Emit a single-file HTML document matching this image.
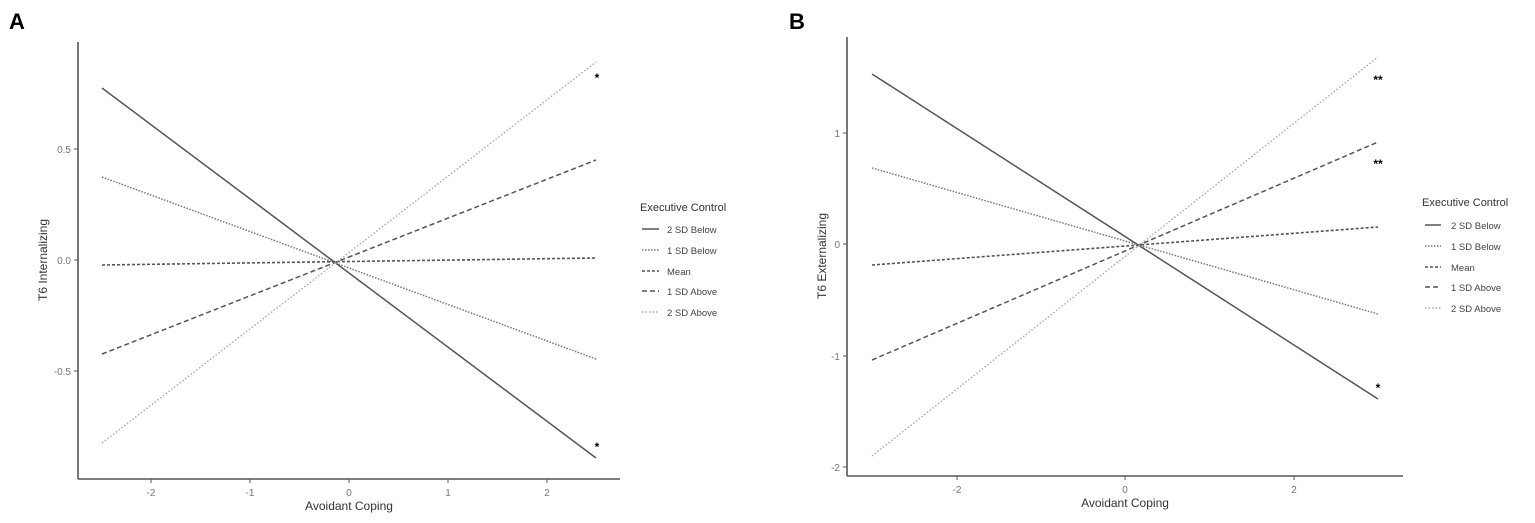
<!DOCTYPE html>
<html><head><meta charset="utf-8"><style>
html,body{margin:0;padding:0;background:#fff;}
svg text{font-family:"Liberation Sans",Arial,sans-serif;}
</style></head><body>
<svg width="1535" height="518" viewBox="0 0 1535 518" xmlns="http://www.w3.org/2000/svg">
<text x="9" y="29" font-size="22" font-weight="bold" fill="#000">A</text>
<text x="789" y="29" font-size="22" font-weight="bold" fill="#000">B</text>

<!-- Panel A -->
<g stroke="#555" stroke-width="1.6" fill="none">
<line x1="78" y1="42" x2="78" y2="479"/>
<line x1="78" y1="479" x2="620" y2="479"/>
</g>
<g stroke="#555" stroke-width="1">
<line x1="74" y1="149" x2="78" y2="149"/><line x1="74" y1="260" x2="78" y2="260"/><line x1="74" y1="371" x2="78" y2="371"/>
<line x1="151" y1="479" x2="151" y2="483"/><line x1="250" y1="479" x2="250" y2="483"/><line x1="349" y1="479" x2="349" y2="483"/><line x1="448" y1="479" x2="448" y2="483"/><line x1="547" y1="479" x2="547" y2="483"/>
</g>
<g font-size="10" fill="#777" text-anchor="end">
<text x="71" y="153">0.5</text><text x="71" y="264">0.0</text><text x="71" y="375">-0.5</text>
</g>
<g font-size="10" fill="#777" text-anchor="middle">
<text x="151" y="496">-2</text><text x="250" y="496">-1</text><text x="349" y="496">0</text><text x="448" y="496">1</text><text x="547" y="496">2</text>
</g>
<text x="349" y="510" font-size="12" fill="#333" text-anchor="middle">Avoidant Coping</text>
<text transform="translate(47,260) rotate(-90)" font-size="12" fill="#333" text-anchor="middle">T6 Internalizing</text>
<g fill="none">
<line x1="102" y1="88" x2="596" y2="458" stroke="#555" stroke-width="1.5"/>
<line x1="102" y1="177" x2="596" y2="359" stroke="#777" stroke-width="1.5" stroke-dasharray="1.5,1.5"/>
<line x1="102" y1="265" x2="596" y2="258" stroke="#555" stroke-width="1.6" stroke-dasharray="3,2"/>
<line x1="102" y1="354" x2="596" y2="160" stroke="#555" stroke-width="1.5" stroke-dasharray="5,3"/>
<line x1="102" y1="443" x2="596" y2="62" stroke="#aaa" stroke-width="1.4" stroke-dasharray="1.5,2"/>
</g>
<g font-size="12" font-weight="bold" fill="#000" text-anchor="middle">
<text x="597" y="82">*</text><text x="597" y="451">*</text>
</g>
<!-- Legend A -->
<text x="640" y="211" font-size="11" fill="#333">Executive Control</text>
<g fill="none">
<line x1="642" y1="229" x2="659" y2="229" stroke="#555" stroke-width="1.5"/>
<line x1="642" y1="250" x2="659" y2="250" stroke="#777" stroke-width="1.5" stroke-dasharray="1.5,1.5"/>
<line x1="642" y1="271" x2="659" y2="271" stroke="#555" stroke-width="1.6" stroke-dasharray="3,2"/>
<line x1="642" y1="291" x2="659" y2="291" stroke="#555" stroke-width="1.5" stroke-dasharray="5,3"/>
<line x1="642" y1="312" x2="659" y2="312" stroke="#aaa" stroke-width="1.4" stroke-dasharray="1.5,2"/>
</g>
<g font-size="9.5" fill="#444">
<text x="667" y="233">2 SD Below</text><text x="667" y="254">1 SD Below</text><text x="667" y="275">Mean</text><text x="667" y="295">1 SD Above</text><text x="667" y="316">2 SD Above</text>
</g>

<!-- Panel B -->
<g stroke="#555" stroke-width="1.6" fill="none">
<line x1="847" y1="37" x2="847" y2="476"/>
<line x1="847" y1="476" x2="1403" y2="476"/>
</g>
<g stroke="#555" stroke-width="1">
<line x1="843" y1="133" x2="847" y2="133"/><line x1="843" y1="244" x2="847" y2="244"/><line x1="843" y1="356" x2="847" y2="356"/><line x1="843" y1="467" x2="847" y2="467"/>
<line x1="957" y1="476" x2="957" y2="480"/><line x1="1125" y1="476" x2="1125" y2="480"/><line x1="1294" y1="476" x2="1294" y2="480"/>
</g>
<g font-size="10" fill="#777" text-anchor="end">
<text x="840" y="137">1</text><text x="840" y="248">0</text><text x="840" y="360">-1</text><text x="840" y="471">-2</text>
</g>
<g font-size="10" fill="#777" text-anchor="middle">
<text x="957" y="493">-2</text><text x="1125" y="493">0</text><text x="1294" y="493">2</text>
</g>
<text x="1125" y="507" font-size="12" fill="#333" text-anchor="middle">Avoidant Coping</text>
<text transform="translate(826,256) rotate(-90)" font-size="12" fill="#333" text-anchor="middle">T6 Externalizing</text>
<g fill="none">
<line x1="872" y1="74" x2="1378" y2="399" stroke="#555" stroke-width="1.5"/>
<line x1="872" y1="168" x2="1378" y2="314" stroke="#777" stroke-width="1.5" stroke-dasharray="1.5,1.5"/>
<line x1="872" y1="265" x2="1378" y2="227" stroke="#555" stroke-width="1.6" stroke-dasharray="3,2"/>
<line x1="872" y1="360" x2="1378" y2="142" stroke="#555" stroke-width="1.5" stroke-dasharray="5,3"/>
<line x1="872" y1="456" x2="1378" y2="57" stroke="#aaa" stroke-width="1.4" stroke-dasharray="1.5,2"/>
</g>
<g font-size="12" font-weight="bold" fill="#000" text-anchor="middle">
<text x="1378" y="84">**</text><text x="1378" y="168">**</text><text x="1378" y="392">*</text>
</g>
<!-- Legend B -->
<text x="1422" y="206" font-size="11" fill="#333">Executive Control</text>
<g fill="none">
<line x1="1425" y1="225" x2="1441" y2="225" stroke="#555" stroke-width="1.5"/>
<line x1="1425" y1="246" x2="1441" y2="246" stroke="#777" stroke-width="1.5" stroke-dasharray="1.5,1.5"/>
<line x1="1425" y1="267" x2="1441" y2="267" stroke="#555" stroke-width="1.6" stroke-dasharray="3,2"/>
<line x1="1425" y1="287" x2="1441" y2="287" stroke="#555" stroke-width="1.5" stroke-dasharray="5,3"/>
<line x1="1425" y1="308" x2="1441" y2="308" stroke="#aaa" stroke-width="1.4" stroke-dasharray="1.5,2"/>
</g>
<g font-size="9.5" fill="#444">
<text x="1451" y="229">2 SD Below</text><text x="1451" y="250">1 SD Below</text><text x="1451" y="271">Mean</text><text x="1451" y="291">1 SD Above</text><text x="1451" y="312">2 SD Above</text>
</g>
</svg>
</body></html>
